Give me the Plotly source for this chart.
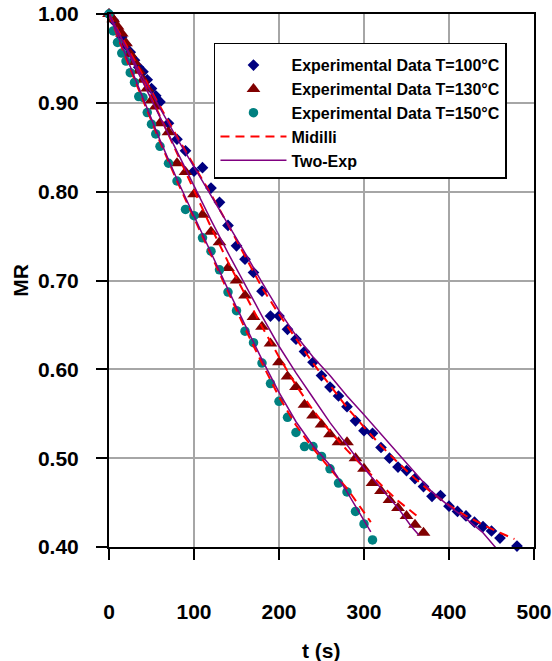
import plotly.graph_objects as go

# ---------------- experimental data ----------------
t100 = [0, 5, 10, 15, 20, 25, 30, 35, 40, 45, 50, 55, 60, 70, 80, 90, 100, 110, 120, 130,
        140, 150, 160, 170, 180, 190, 200, 210, 220, 230, 240, 250, 260, 270, 280, 290, 300,
        310, 320, 330, 340, 350, 360, 370, 380, 390, 400, 410, 420, 430, 440, 450, 460, 480]
mr100 = [1.000, 0.993, 0.983, 0.974, 0.965, 0.957, 0.948, 0.940, 0.935, 0.926, 0.916, 0.908, 0.901,
         0.877, 0.859, 0.846, 0.823, 0.827, 0.804, 0.788, 0.762, 0.739, 0.724, 0.709, 0.688, 0.660,
         0.660, 0.645, 0.634, 0.620, 0.608, 0.593, 0.580, 0.570, 0.558, 0.542, 0.531, 0.528, 0.512,
         0.500, 0.490, 0.486, 0.477, 0.468, 0.457, 0.458, 0.446, 0.440, 0.435, 0.428, 0.423, 0.418,
         0.410, 0.401]

t130 = [0, 5, 10, 15, 20, 25, 30, 35, 40, 45, 50, 55, 60, 70, 80, 90, 100, 110, 120, 130,
        140, 150, 160, 170, 180, 190, 200, 210, 220, 230, 240, 250, 260, 270, 280, 290, 300,
        310, 320, 330, 340, 350, 360, 370]
mr130 = [1.000, 0.994, 0.986, 0.978, 0.967, 0.955, 0.946, 0.936, 0.926, 0.916, 0.903, 0.896, 0.877,
         0.867, 0.832, 0.822, 0.797, 0.774, 0.755, 0.743, 0.714, 0.700, 0.683, 0.659, 0.648, 0.629,
         0.608, 0.592, 0.580, 0.560, 0.548, 0.538, 0.527, 0.518, 0.518, 0.500, 0.488, 0.472, 0.463,
         0.453, 0.444, 0.435, 0.425, 0.416]

t150 = [0, 5, 10, 15, 20, 25, 30, 35, 40, 45, 50, 55, 60, 70, 80, 90, 100, 110, 120, 130,
        140, 150, 160, 170, 180, 190, 200, 210, 220, 230, 240, 250, 260, 270, 280, 290, 300, 310]
mr150 = [1.000, 0.981, 0.968, 0.956, 0.947, 0.934, 0.923, 0.907, 0.906, 0.889, 0.876, 0.865, 0.851,
         0.832, 0.812, 0.780, 0.773, 0.748, 0.733, 0.712, 0.687, 0.666, 0.643, 0.630, 0.607, 0.584,
         0.564, 0.546, 0.529, 0.513, 0.513, 0.502, 0.488, 0.472, 0.462, 0.440, 0.426, 0.408]

# ---------------- model curves ----------------
tm100_mid = [0, 20, 40, 60, 80, 100, 120, 140, 160, 180, 200, 220, 240, 260, 280, 300, 320, 340,
             360, 380, 400, 420, 440, 460, 477]
mid100 = [1.000, 0.965, 0.930, 0.896, 0.862, 0.830, 0.797, 0.763, 0.727, 0.692, 0.662, 0.634, 0.607,
          0.582, 0.557, 0.535, 0.514, 0.495, 0.477, 0.461, 0.447, 0.435, 0.425, 0.416, 0.409]
tm100_two = [0, 20, 40, 60, 80, 100, 120, 140, 160, 180, 200, 220, 240, 260, 280, 300, 320, 340,
             360, 380, 400, 420, 440, 457]
two100 = [1.000, 0.963, 0.928, 0.894, 0.860, 0.828, 0.796, 0.764, 0.731, 0.698, 0.666, 0.638, 0.614,
          0.593, 0.570, 0.549, 0.527, 0.505, 0.483, 0.462, 0.446, 0.432, 0.416, 0.397]

tm130 = [0, 20, 40, 60, 80, 100, 120, 140, 160, 180, 200, 220, 240, 260, 280, 300, 320, 340, 355, 365]
mid130 = [1.000, 0.963, 0.925, 0.885, 0.843, 0.801, 0.760, 0.721, 0.684, 0.648, 0.614, 0.582, 0.554,
          0.530, 0.509, 0.489, 0.470, 0.452, 0.440, 0.433]
two130 = [1.000, 0.962, 0.923, 0.884, 0.845, 0.806, 0.768, 0.731, 0.695, 0.660, 0.626, 0.596, 0.568,
          0.540, 0.515, 0.489, 0.466, 0.444, 0.424, 0.413]

tm150 = [0, 20, 40, 60, 80, 100, 120, 140, 160, 180, 200, 220, 240, 260, 280, 300, 308]
mid150 = [1.000, 0.950, 0.903, 0.856, 0.812, 0.770, 0.729, 0.688, 0.646, 0.607, 0.569, 0.537, 0.511,
          0.488, 0.466, 0.439, 0.428]
two150 = [1.000, 0.952, 0.905, 0.858, 0.814, 0.772, 0.730, 0.690, 0.650, 0.611, 0.574, 0.541, 0.514,
          0.492, 0.462, 0.430, 0.417]

x_ticks = [0, 100, 200, 300, 400, 500]
y_ticks = [0.40, 0.50, 0.60, 0.70, 0.80, 0.90, 1.00]

FONT = "Liberation Sans, Arial, sans-serif"
BLUE, DRED, TEAL = "#000080", "#800000", "#008080"
RED, PURPLE = "#FF0000", "#800080"

fig = go.Figure()

fig.add_trace(go.Scatter(x=t100, y=mr100, mode="markers", name="Experimental Data T=100°C",
                         legendgroup="g100", cliponaxis=False,
                         marker=dict(symbol="diamond", size=9, color=BLUE)))
fig.add_trace(go.Scatter(x=t130, y=mr130, mode="markers", name="Experimental Data T=130°C",
                         legendgroup="g130", cliponaxis=False,
                         marker=dict(symbol="triangle-up", size=12, color=DRED)))
fig.add_trace(go.Scatter(x=t150, y=mr150, mode="markers", name="Experimental Data T=150°C",
                         legendgroup="g150", cliponaxis=False,
                         marker=dict(symbol="circle", size=9.5, color=TEAL)))

for i, (tt, vv) in enumerate([(tm100_mid, mid100), (tm130, mid130), (tm150, mid150)]):
    fig.add_trace(go.Scatter(x=tt, y=vv, mode="lines", name="Midilli", legendgroup="mid",
                             showlegend=(i == 0), cliponaxis=False,
                             line=dict(color=RED, width=2, dash="9px,6px")))
for i, (tt, vv) in enumerate([(tm100_two, two100), (tm130, two130), (tm150, two150)]):
    fig.add_trace(go.Scatter(x=tt, y=vv, mode="lines", name="Two-Exp", legendgroup="two",
                             showlegend=(i == 0), cliponaxis=False,
                             line=dict(color=PURPLE, width=1.5)))

axis_common = dict(
    showgrid=True, gridcolor="#a6a6a6", gridwidth=1.5,
    showline=True, linecolor="black", linewidth=2, mirror=True,
    ticks="outside", tickcolor="black", tickwidth=2, ticklen=11,
    zeroline=False, automargin=False, ticklabeloverflow="allow",
    tickfont=dict(family=FONT, size=21, color="black", weight="bold"),
)

fig.update_layout(
    width=552, height=661,
    margin=dict(l=109, r=18, t=14, b=114),
    paper_bgcolor="white", plot_bgcolor="white",
    font=dict(family=FONT, color="black"),
    xaxis=dict(range=[0, 500], tickvals=x_ticks, ticklabelstandoff=34, **axis_common),
    yaxis=dict(range=[0.40, 1.00], tickvals=y_ticks, tickformat=".2f", ticklabelstandoff=13,
               **axis_common),
    legend=dict(x=0.247, y=0.946, xanchor="left", yanchor="top",
                bordercolor="black", borderwidth=1.5, bgcolor="white",
                traceorder="grouped", tracegroupgap=0, itemwidth=66,
                title=dict(text="&nbsp;", font=dict(size=3)),
                font=dict(family=FONT, size=16, color="black", weight="bold")),
    annotations=[
        dict(text="t (s)", xref="paper", yref="paper", x=0.5, y=-0.195,
             xanchor="center", yanchor="middle", showarrow=False,
             font=dict(family=FONT, size=21, color="black", weight="bold")),
        dict(text="MR", xref="paper", yref="paper", x=-0.209, y=0.5, textangle=-90,
             xanchor="center", yanchor="middle", showarrow=False,
             font=dict(family=FONT, size=21, color="black", weight="bold")),
    ],
)

fig.write_html("out.html", config={"displayModeBar": False},
               post_script="document.body.style.margin='0px';")
